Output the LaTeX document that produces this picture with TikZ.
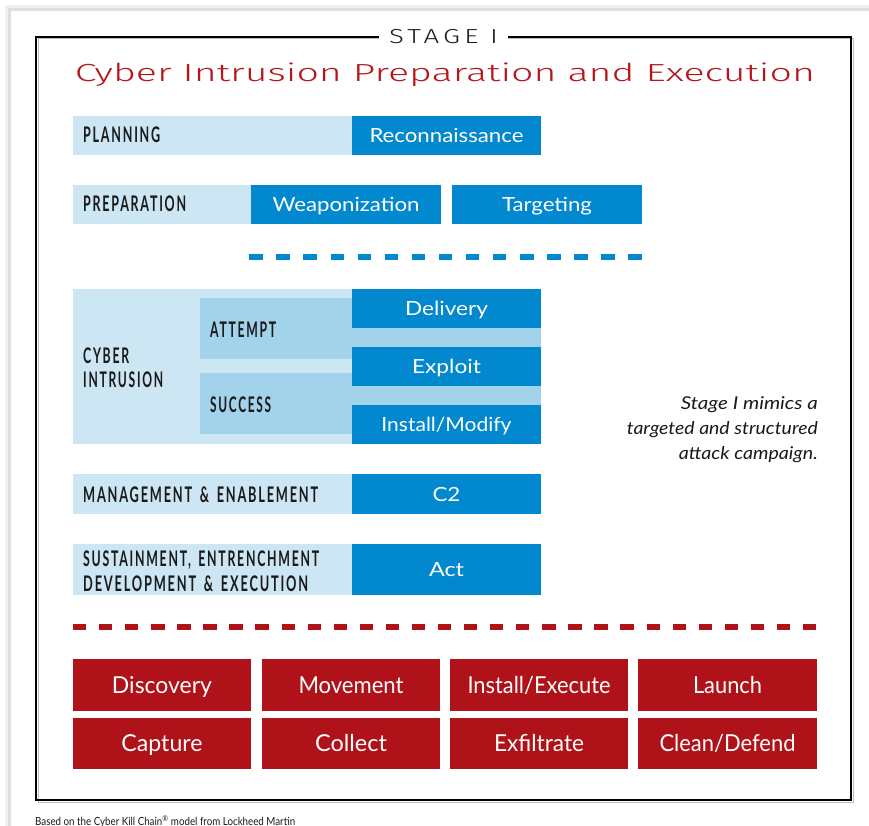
\documentclass[tikz,border=0pt]{standalone}
\usepackage{fontspec}
\setmainfont{Lato}
\newfontfamily\lblfont[LetterSpace=14]{Lato}
\newfontfamily\ttlfont{Fira Sans Light}
\newfontfamily\stgfont[LetterSpace=15]{Fira Sans Light}
\usetikzlibrary{fit}
\definecolor{dblue}{HTML}{0288CF}
\definecolor{lblue}{HTML}{CCE6F4}
\definecolor{mblue}{HTML}{A3D2EB}
\definecolor{kred}{HTML}{AF1218}
\definecolor{tred}{HTML}{B5161C}
\definecolor{lblack}{HTML}{1A1A1A}
\newcommand\fitw[2]{\resizebox{#1}{\height}{#2}}
\newcommand\wsp{\hspace{0.6em}}
\begin{document}
\begin{tikzpicture}[x=1pt,y=-1pt,
  bx/.style={inner sep=0pt, outer sep=0pt, draw=none},
  lb/.style={bx, fill=lblue},
  mb/.style={bx, fill=mblue},
  db/.style={bx, fill=dblue},
  rb/.style={bx, fill=kred},
  wt/.style={inner sep=0pt, anchor=base, text=white, font=\fontsize{19.5}{20}\selectfont},
  rt/.style={inner sep=0pt, anchor=base, text=white, font=\fontsize{23.3}{24}\selectfont},
  lt/.style={inner sep=0pt, anchor=base west, text=lblack, font=\lblfont\bfseries\fontsize{21.5}{22}\selectfont},
  it/.style={inner sep=0pt, anchor=base east, text=lblack, font=\itshape\fontsize{17.7}{18}\selectfont},
  bdash/.style={dblue, line width=5.5pt, dash pattern=on 13.5pt off 13.57pt},
  rdash/.style={kred, line width=5.5pt, dash pattern=on 13.3pt off 12.77pt},
]
\useasboundingbox (0,0) rectangle (869,826);
% page with shadow
\fill[white] (0,0) rectangle (869,826);
\fill[gray!12] (5,5) rectangle (869,826);
\fill[gray!25] (8,8) rectangle (869,826);
\fill[white] (11,11) rectangle (869,826);
% frame
\draw[gray!50, line width=1pt] (38,39) rectangle (853,802);
\draw[black, line width=2.2pt] (36,37) rectangle (851,800);
\node[fill=white, inner xsep=10pt, inner ysep=0pt, anchor=base, text=lblack,
      font=\stgfont\fontsize{20.3}{21}\selectfont] (stage) at (443.5,43.5) {\fitw{109pt}{STAGE I}};
\node[inner sep=0pt, anchor=base, text=tred, font=\ttlfont\fontsize{24.7}{25}\selectfont]
      (title) at (445,82) {\fitw{740pt}{Cyber Intrusion Preparation and Execution}};

% planning
\node[lb, fit={(73,116) (352,155)}] (planbar) {};
\node[db, fit={(352,116) (541,155)}] (recon) {};
\node[lt] (planning) at (83,143) {\fitw{77pt}{PLANNING}};
\node[wt] (recont) at (446.5,142.5) {\fitw{154pt}{Reconnaissance}};

% preparation
\node[lb, fit={(73,185) (251,224)}] (prepbar) {};
\node[db, fit={(251,185) (441,224)}] (weap) {};
\node[db, fit={(452,185) (642,224)}] (targ) {};
\node[lt] (preparation) at (83,212) {\fitw{103pt}{PREPARATION}};
\node[wt] (weapt) at (346,211.5) {\fitw{147pt}{Weaponization}};
\node[wt] (targt) at (547,211.5) {\fitw{90pt}{Targeting}};

% blue dashes
\coordinate (bd1) at (249.3,257);
\coordinate (bd2) at (642,257);
\draw[bdash] (bd1) -- (bd2);

% cyber intrusion
\node[lb, fit={(73,289) (352,444)}] (cyberbar) {};
\node[mb, fit={(352,298) (541,434)}] (midband) {};
\node[mb, fit={(200,298) (352,359)}] (attempt) {};
\node[mb, fit={(200,373) (352,434)}] (success) {};
\node[db, fit={(352,289) (541,328)}] (deliv) {};
\node[db, fit={(352,347) (541,386)}] (expl) {};
\node[db, fit={(352,405) (541,444)}] (inst) {};
\node[lt] (cyber) at (83,363) {\fitw{46pt}{CYBER}};
\node[lt] (intrusion) at (83,387) {\fitw{80pt}{INTRUSION}};
\node[lt] (attemptt) at (210,337) {\fitw{66pt}{ATTEMPT}};
\node[lt] (successt) at (210,412) {\fitw{61pt}{SUCCESS}};
\node[wt] (delivt) at (446.5,315.5) {\fitw{83pt}{Delivery}};
\node[wt] (explt) at (446.5,373.5) {\fitw{69pt}{Exploit}};
\node[wt] (instt) at (446.5,431) {\fitw{130pt}{Install/Modify}};

% management
\node[lb, fit={(73,474) (352,514)}] (mgmtbar) {};
\node[db, fit={(352,474) (541,514)}] (ctwo) {};
\node[lt] (mgmt) at (83,502) {\fitw{235pt}{MANAGEMENT\wsp\&\wsp ENABLEMENT}};
\node[wt] (ctwot) at (446.5,501) {\fitw{28pt}{C2}};

% sustainment
\node[lb, fit={(73,544) (352,595)}] (sustbar) {};
\node[db, fit={(352,544) (541,595)}] (act) {};
\node[lt] (sust1) at (83,566) {\fitw{236pt}{SUSTAINMENT,\wsp ENTRENCHMENT}};
\node[lt] (sust2) at (83,591) {\fitw{225pt}{DEVELOPMENT\wsp\&\wsp EXECUTION}};
\node[wt] (actt) at (446.5,576.5) {\fitw{35pt}{Act}};

% side note
\node[it] (note1) at (818,409) {\fitw{137pt}{Stage I mimics a}};
\node[it] (note2) at (818,434) {\fitw{191pt}{targeted and structured}};
\node[it] (note3) at (818,459) {\fitw{139pt}{attack campaign.}};

% red dashes
\coordinate (rd1) at (73,627);
\coordinate (rd2) at (817,627);
\draw[rdash] (rd1) -- (rd2);

% red boxes
\node[rb, fit={(73,659) (251,711)}] (disc) {};
\node[rb, fit={(262,659) (440,711)}] (move) {};
\node[rb, fit={(450,659) (628,711)}] (inex) {};
\node[rb, fit={(638,659) (817,711)}] (laun) {};
\node[rb, fit={(73,718) (251,769)}] (capt) {};
\node[rb, fit={(262,718) (440,769)}] (coll) {};
\node[rb, fit={(450,718) (628,769)}] (exfi) {};
\node[rb, fit={(638,718) (817,769)}] (clea) {};
\node[rt] (disct) at (162,693.3) {\fitw{100pt}{Discovery}};
\node[rt] (movet) at (351,693.3) {\fitw{105pt}{Movement}};
\node[rt] (inext) at (539,693.3) {\fitw{143pt}{Install/Execute}};
\node[rt] (launt) at (727.5,693.3) {\fitw{69pt}{Launch}};
\node[rt] (captt) at (162,751.8) {\fitw{81pt}{Capture}};
\node[rt] (collt) at (351,751.8) {\fitw{72pt}{Collect}};
\node[rt] (exfit) at (539,751.8) {\fitw{90pt}{Exfiltrate}};
\node[rt] (cleat) at (727.5,751.8) {\fitw{136pt}{Clean/Defend}};

% caption
\node[inner sep=0pt, anchor=base west, text=lblack, font=\fontsize{11.2}{12}\selectfont]
  (caption) at (35,825) {\fitw{260pt}{Based on the Cyber Kill Chain\textsuperscript{®} model from Lockheed Martin}};
\end{tikzpicture}
\end{document}
